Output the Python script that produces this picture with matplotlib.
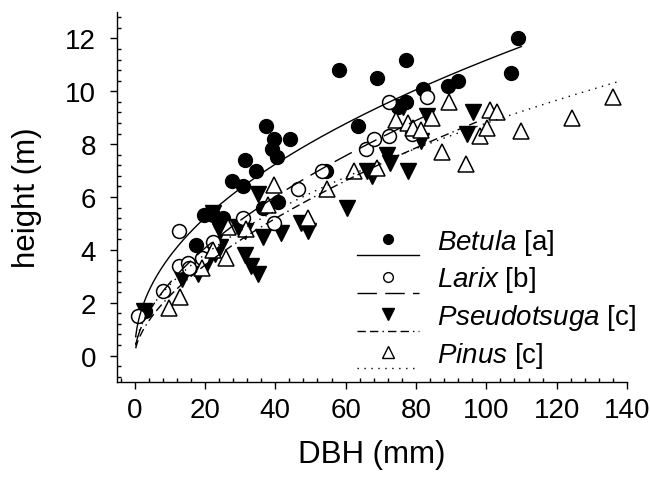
import numpy as np
import matplotlib
matplotlib.use('Agg')
import matplotlib.pyplot as plt
from matplotlib.lines import Line2D
from matplotlib.legend_handler import HandlerBase
from matplotlib.ticker import MultipleLocator

plt.rcParams['font.family'] = ['Liberation Sans', 'DejaVu Sans']
plt.rcParams['mathtext.fontset'] = 'custom'
plt.rcParams['mathtext.it'] = 'Liberation Sans:italic'
plt.rcParams['mathtext.rm'] = 'Liberation Sans'

# values: DBH (mm) and height (m)
betula_dbh = [3.1, 17.6, 19.6, 21.5, 22.4, 24.4, 25.0, 27.8, 30.7, 31.3, 34.4, 37.5, 39.5,
              39.2, 40.6, 44.3, 36.4, 40.9, 54.5, 58.2, 63.4, 69.0, 77.3, 75.0, 77.3, 82.0,
              89.2, 92.0, 107.0, 109.0]
betula_h = [1.7, 4.2, 5.3, 5.4, 5.3, 5.0, 5.2, 6.6, 6.4, 7.4, 7.0, 8.7, 8.2,
            7.8, 7.5, 8.2, 5.6, 5.8, 7.0, 10.8, 8.7, 10.5, 11.2, 9.4, 9.6, 10.1,
            10.2, 10.4, 10.7, 12.0]

larix_dbh = [0.9, 8.0, 12.5, 12.5, 15.3, 15.6, 19.3, 22.4, 30.7, 39.5, 46.6, 53.4, 65.9,
             68.2, 72.2, 72.2, 79.0, 83.2]
larix_h = [1.5, 2.45, 4.7, 3.4, 3.5, 3.3, 3.7, 4.3, 5.2, 5.0, 6.3, 7.0, 7.8,
           8.2, 8.3, 9.6, 8.4, 9.8]

pseudo_dbh = [2.6, 13.6, 17.9, 20.7, 23.0, 24.4, 24.4, 22.4, 29.3, 31.5, 35.0, 36.6, 41.5,
              31.5, 33.0, 35.0, 47.2, 49.4, 60.5, 66.2, 67.6, 71.9, 72.7, 77.6, 76.4, 83.2,
              96.3, 94.6, 81.5]
pseudo_h = [1.7, 2.9, 3.1, 3.5, 3.85, 4.1, 4.7, 5.4, 4.85, 4.7, 6.1, 4.5, 4.65,
            3.8, 3.4, 3.1, 5.0, 4.7, 5.6, 7.0, 6.8, 7.6, 7.3, 7.0, 9.4, 9.05,
            9.2, 8.4, 8.1]

pinus_dbh = [9.7, 12.8, 19.3, 22.4, 25.9, 26.7, 31.8, 37.8, 39.5, 49.4, 54.8, 62.5, 68.8,
             74.4, 77.6, 79.3, 81.5, 84.7, 87.5, 89.5, 94.3, 98.3, 100.3, 101.0, 103.0,
             110.0, 124.4, 136.0]
pinus_h = [1.8, 2.2, 3.3, 4.0, 3.7, 4.85, 4.8, 5.7, 6.45, 5.2, 6.3, 7.0, 7.1,
           8.9, 8.8, 8.6, 8.55, 9.0, 7.7, 9.6, 7.25, 8.3, 8.6, 9.3, 9.2,
           8.5, 9.0, 9.8]

# fitted curves h = a * DBH^b (a, b, last DBH of the curve)
betula_fit = (1.26, 0.474, 110)
larix_fit = (0.748, 0.565, 85)
pseudo_fit = (0.567, 0.60, 98)
pinus_fit = (0.813, 0.517, 137)

labels = [r'$\it{Betula}$ [a]', r'$\it{Larix}$ [b]',
          r'$\it{Pseudotsuga}$ [c]', r'$\it{Pinus}$ [c]']


class MarkerOverLine(HandlerBase):
    # SigmaPlot-like legend entry: symbol on top, line sample underneath
    def create_artists(self, legend, orig_handle, xdescent, ydescent,
                       width, height, fontsize, trans):
        yc = height / 2 - ydescent
        line = Line2D([-xdescent, width - xdescent], [yc - 0.58 * fontsize] * 2)
        line.update_from(orig_handle)
        line.set_marker('None')
        line.set_transform(trans)
        mark = Line2D([width / 2 - xdescent], [yc])
        mark.update_from(orig_handle)
        mark.set_linestyle('None')
        mark.set_transform(trans)
        return [line, mark]


fig = plt.figure(figsize=(6.5, 4.89), dpi=100)
ax = fig.add_axes([0.18, 0.2168, 0.7846, 0.7566])

ax.plot(betula_dbh, betula_h, 'o', ms=10, mfc='black', mec='black', mew=1, zorder=2)
ax.plot(pseudo_dbh, pseudo_h, 'v', ms=11, mfc='black', mec='black', mew=1, zorder=2)
ax.plot(larix_dbh, larix_h, 'o', ms=10, mfc='white', mec='black', mew=1.1, zorder=3)
ax.plot(pinus_dbh, pinus_h, '^', ms=11, mfc='white', mec='black', mew=1.1, zorder=3)

styles = ['-', (0, (14, 6)), (0, (6, 3, 6, 3, 1, 3)), (0, (1, 4))]
fits = [betula_fit, larix_fit, pseudo_fit, pinus_fit]
for (a, b, xend), ls in zip(fits, styles):
    xx = np.linspace(0.3, xend, 300)
    ax.plot(xx, a * xx ** b, color='black', lw=1.0, linestyle=ls, zorder=4)

ax.set_xlim(-5, 140)
ax.set_ylim(-1, 13)
ax.xaxis.set_major_locator(MultipleLocator(20))
ax.xaxis.set_minor_locator(MultipleLocator(4))
ax.yaxis.set_major_locator(MultipleLocator(2))
ax.yaxis.set_minor_locator(MultipleLocator(0.4))
ax.spines['top'].set_visible(False)
ax.spines['right'].set_visible(False)
for s in ['left', 'bottom']:
    ax.spines[s].set_linewidth(1.0)
ax.tick_params(which='major', direction='out', length=5, width=1, labelsize=20)
ax.tick_params(which='minor', direction='in', length=3, width=1)
ax.tick_params(axis='x', which='major', pad=6)
ax.tick_params(axis='y', which='major', pad=10)

ax.set_xlabel('DBH (mm)', fontsize=22.5, va='center')
ax.set_ylabel('height (m)', fontsize=22.5, va='center')
ax.xaxis.set_label_coords(0.5, -0.195)
ax.yaxis.set_label_coords(-0.176, 0.5)

markers = [('o', 'black', 7), ('o', 'white', 7), ('v', 'black', 8), ('^', 'white', 8)]
handles = []
for (m, fc, ms), ls in zip(markers, styles):
    handles.append(Line2D([], [], color='black', lw=1.0, linestyle=ls, marker=m,
                          ms=ms, mfc=fc, mec='black', mew=1.0))
ax.legend(handles, labels, loc='upper left', bbox_to_anchor=(0.47, 0.42),
          frameon=False, fontsize=20, handlelength=2.23, handletextpad=0.65,
          labelspacing=0.28, borderpad=0, borderaxespad=0,
          handler_map={Line2D: MarkerOverLine()})

fig.savefig('out.png', dpi=100)
